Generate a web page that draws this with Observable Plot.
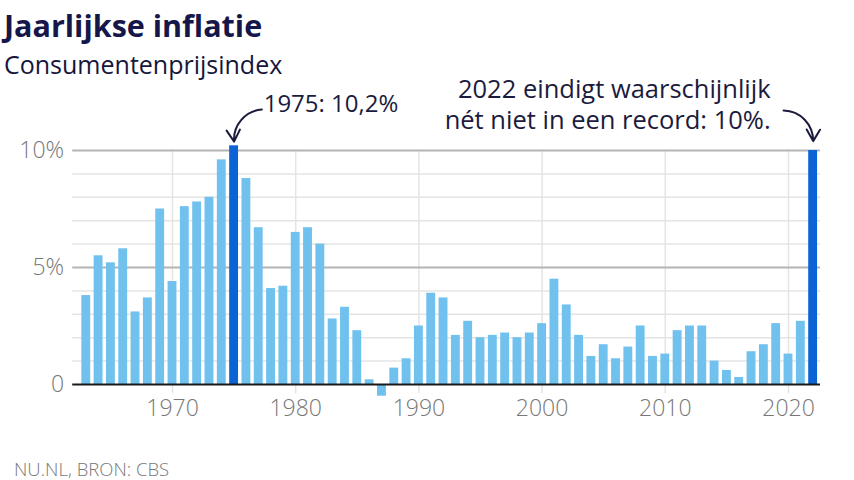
<!DOCTYPE html>
<html><head><meta charset="utf-8">
<script src="https://cdn.jsdelivr.net/npm/d3@7"></script>
<script src="https://cdn.jsdelivr.net/npm/@observablehq/plot@0.6"></script>
<style>
body{margin:0;background:#fff;font-family:"Open Sans",sans-serif;}
#wrap{position:relative;width:854px;height:480px;overflow:hidden;}
#title{position:absolute;left:4px;top:7px;font-size:30.5px;font-weight:700;color:#15164a;line-height:1.2;white-space:nowrap;}
#subtitle{position:absolute;left:4px;top:49px;font-size:25px;color:#16163a;line-height:1.2;white-space:nowrap;}
#chart{position:absolute;left:0;top:60px;}
#footer{position:absolute;left:14px;top:460px;font-size:18.5px;font-weight:300;color:#777;line-height:1;white-space:nowrap;}
</style></head>
<body>
<div id="wrap">
<div id="chart"></div>
<div id="title">Jaarlijkse inflatie</div>
<div id="subtitle">Consumentenprijsindex</div>
<div id="footer">NU.NL, BRON: CBS</div>
</div>
<script>
const years = [1963,1964,1965,1966,1967,1968,1969,1970,1971,1972,1973,1974,1975,1976,1977,1978,1979,1980,1981,1982,1983,1984,1985,1986,1987,1988,1989,1990,1991,1992,1993,1994,1995,1996,1997,1998,1999,2000,2001,2002,2003,2004,2005,2006,2007,2008,2009,2010,2011,2012,2013,2014,2015,2016,2017,2018,2019,2020,2021,2022];
const inflation = [3.8,5.5,5.2,5.8,3.1,3.7,7.5,4.4,7.6,7.8,8.0,9.6,10.2,8.8,6.7,4.1,4.2,6.5,6.7,6.0,2.8,3.3,2.3,0.2,-0.5,0.7,1.1,2.5,3.9,3.7,2.1,2.7,2.0,2.1,2.2,2.0,2.2,2.6,4.5,3.4,2.1,1.2,1.7,1.1,1.6,2.5,1.2,1.3,2.3,2.5,2.5,1.0,0.6,0.3,1.4,1.7,2.6,1.3,2.7,10.0];
const highlightYears = [1975, 2022];
const yTicks = [0, 5, 10];
const yMinor = [1, 2, 3, 4, 6, 7, 8, 9];
const xTicks = [1970, 1980, 1990, 2000, 2010, 2020];
const note1975 = ["1975: 10,2%"];
const note2022 = ["2022 eindigt waarschijnlijk\nnét niet in een record: 10%."];

const data = years.map((year, i) => ({year, value: inflation[i]}));
const ink = "#1b1b3e";

const chart = Plot.plot({
  width: 854,
  height: 380,
  marginLeft: 79.6,
  marginRight: 35.2,
  marginTop: 90,
  marginBottom: 56,
  style: {fontFamily: "'Open Sans', sans-serif", background: "transparent", overflow: "visible"},
  x: {domain: [1962.5, 2022.5], label: null},
  y: {domain: [0, 10], label: null},
  marks: [
    Plot.ruleY(yMinor, {x1: 1961.9, x2: 2022.6, stroke: "#e4e4e4", strokeWidth: 1.5}),
    Plot.ruleX(xTicks, {y1: -0.4, y2: 10, stroke: "#e4e4e4", strokeWidth: 1.5}),
    Plot.ruleY([5, 10], {x1: 1961.9, x2: 2022.6, stroke: "#b4b4b4", strokeWidth: 2}),
    Plot.rectY(data.filter(d => !highlightYears.includes(d.year)), {x1: d => d.year - 0.36, x2: d => d.year + 0.36, y: "value", fill: "#70c1ee"}),
    Plot.rectY(data.filter(d => highlightYears.includes(d.year)), {x1: d => d.year - 0.36, x2: d => d.year + 0.36, y: "value", fill: "#0b63d6"}),
    Plot.ruleY([0], {x1: 1961.9, x2: 2022.6, stroke: "#1a1a1a", strokeWidth: 2}),
    Plot.axisY({ticks: yTicks, label: null, tickSize: 0, tickPadding: 16, tickFormat: d => d === 0 ? "0" : d + "%", fontSize: 23, fill: "#777", fontWeight: 300}),
    Plot.axisX({ticks: xTicks, label: null, tickSize: 0, tickPadding: 15, tickFormat: d => String(d), fontSize: 23, fill: "#777", fontWeight: 300}),
    Plot.text(note1975, {x: 1977.4, y: 11.97, text: d => d, textAnchor: "start", fontSize: 24, fill: ink}),
    Plot.text(note2022, {x: 2018.55, y: 11.99, text: d => d, textAnchor: "end", fontSize: 25.5, lineHeight: 1.22, fill: ink}),
    Plot.arrow([0], {x1: 1977.25, y1: 11.75, x2: 1975, y2: 10.38, bend: -45, stroke: ink, strokeWidth: 2, headLength: 10}),
    Plot.arrow([0], {x1: 2019.6, y1: 11.71, x2: 2022, y2: 10.4, bend: 45, stroke: ink, strokeWidth: 2, headLength: 10})
  ]
});
document.getElementById("chart").appendChild(chart);
</script>
</body></html>
